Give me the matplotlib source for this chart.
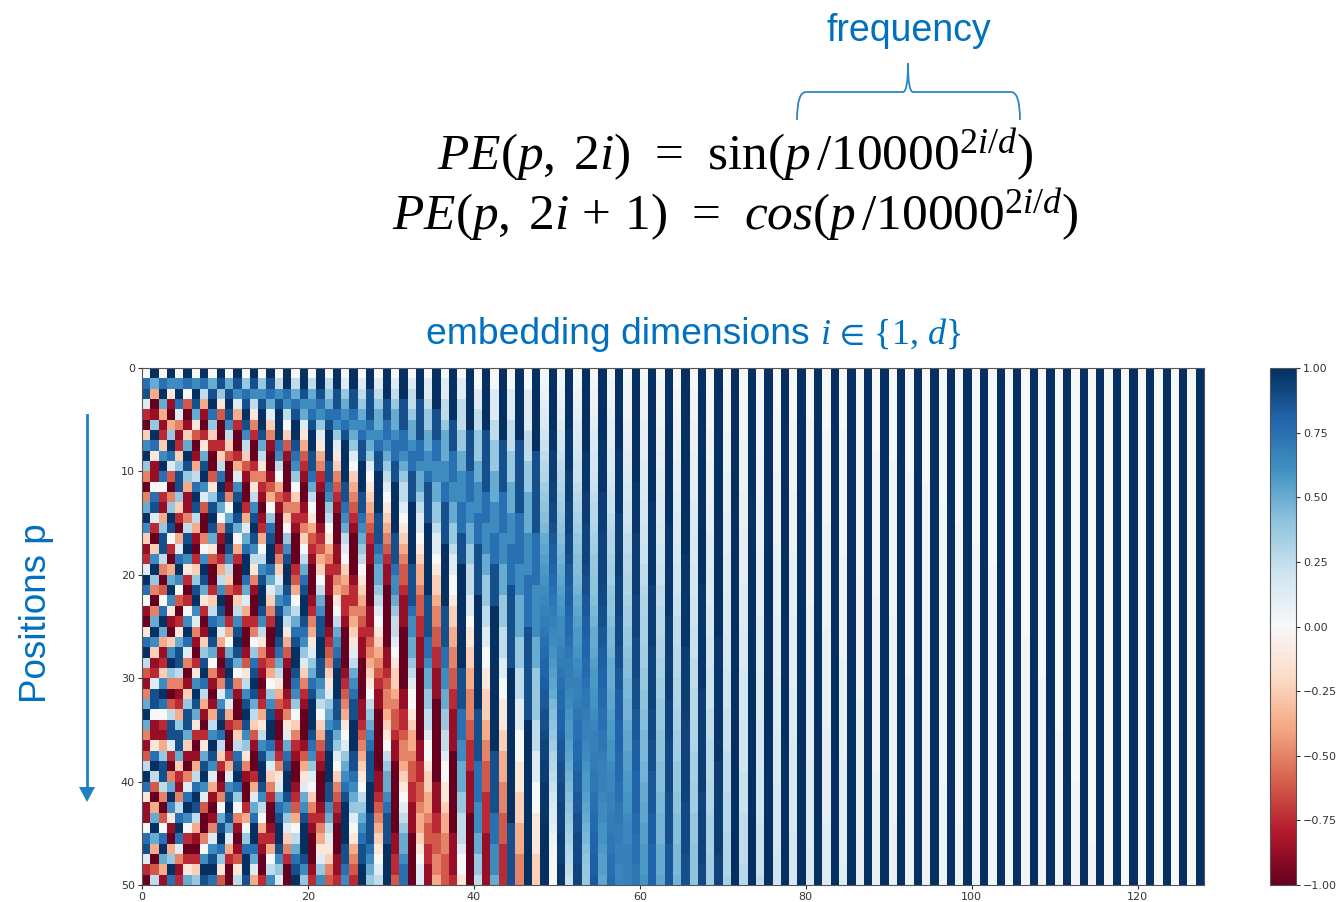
import matplotlib

matplotlib.use("Agg")

import matplotlib.pyplot as plt  # noqa: E402
import numpy as np  # noqa: E402
from matplotlib.patches import PathPatch  # noqa: E402
from matplotlib.path import Path  # noqa: E402

plt.rcParams["font.family"] = ["DejaVu Sans"]
plt.rcParams["mathtext.fontset"] = "custom"
plt.rcParams["mathtext.rm"] = "Liberation Serif"
plt.rcParams["mathtext.it"] = "Liberation Serif:italic"
plt.rcParams["mathtext.fallback"] = "stix"

# each string is one heatmap column, top row first, hand read from the picture
# coarse symbols: 0..g mean -1.00 .. +1.00 in steps of 0.125
COARSE = "0123456789abcdefg"
# fine symbols for the smooth right part: 0..E mean 0.000 .. 1.000 in steps of 0.025
FINE = "0123456789abcdefghijklmnopqrstuvwxyzABCDE"
NAVY = "E" * 50
PALE = "0" * 50

columns_0_47 = [
    "8ef9206dgb" "404cgd6129" "ge8107ega3" "14cgc413ag" "e7118ef920",
    "gc501bge71" "18ef9206dg" "b404cgd612" "9ff8117ega" "305cgc503a",
    "8egc5126dg" "e8215bffa4" "038egc5126" "dge8215bff" "a4038egc51",
    "gd7105bge9" "304bgf8205" "cgd7106dgb" "403aff9204" "cgd7105bge",
    "8dge94126b" "ffb62059eg" "d83027cffa" "4125bffc62" "14aege9412",
    "ge83016cgf" "b5114afgd7" "2028dge940" "16bffc6104" "9egd82027c",
    "8dgfc73015" "aegfa51026" "bfgd941027" "dgfc72015a" "egfa51026b",
    "gea51027cf" "gd930048dg" "fc72016bfg" "ea51027cfg" "d930048dgf",
    "8cfgeb6200" "37bfgfc730" "026aegfc84" "1015adgfd9" "510149dfge",
    "gfb730026a" "egfc841025" "adgfd95101" "49dfgea620" "148cfgeb73",
    "8cfgfda630" "0148cfgfda" "6300258cfg" "fd95200259" "dfgfc95200",
    "gfd9520025" "9dfgfc8520" "026adfgfc8" "410036aefg" "eb8410137a",
    "8befgfda63" "100259cegg" "ec95200137" "adfgfdb741" "00258beggf",
    "gfda742002" "47adfgfda7" "4100248bef" "gfca631002" "59ceggec95",
    "8bdfggfca7" "42101258ad" "fggfda7421" "01257adfgg" "fda8521002",
    "gfec964100" "1358befgge" "c964200135" "8bdfggec96" "42001258ad",
    "8adfgggeda" "8531000246" "9bdfggfeca" "7531001247" "9cefggfdb9",
    "ggeda86310" "002468bdfg" "gfeca75310" "012479cefg" "gfdb964200",
    "8acefggfed" "b864210002" "358acefggf" "edb8642100" "12358acefg",
    "ggfdc97532" "10012468ac" "efggfedb96" "4210001357" "9cdfgggfdb",
    "8acdefggff" "eca8753210" "00124579bc" "efgggfedb9" "8642100012",
    "ggfedb9754" "2100012356" "8acdffggff" "dca8653210" "00124579bd",
    "8abcefgggf" "fedba87542" "1100012346" "79bcdffggg" "ffdca97643",
    "ggffedb976" "4321000112" "4578acdefg" "ggffecb986" "4321000112",
    "89bcdefggg" "gffedca986" "5422100001" "2345789bcd" "efggggffed",
    "ggffedcb98" "6543210000" "12245679ac" "deffgggffe" "dcb9875432",
    "89abcdeffg" "ggffedcba8" "7654321100" "0011234567" "8abcdeffgg",
    "ggfffedcb9" "8765432110" "0001123456" "78abcdefff" "gggfffedcb",
    "89abccdeff" "ggggfffedc" "cba9876543" "2110000001" "123456789a",
    "gggffeedcb" "a987654321" "1000000112" "3445678abc" "cdefffgggg",
    "89abccdeef" "fgggggfffe" "ddcbaa9876" "6543321100" "0000011223",
    "gggfffeedc" "baa9876543" "3211100000" "0112234456" "789abccdee",
    "89aabccdee" "fffggggggf" "fffeddccba" "9887655433" "2211100000",
    "gggffffeed" "ccba998765" "5433221110" "0000001122" "3345567899",
    "899abbccdd" "effffggggg" "ggffffeedc" "cbbaa98876" "6554332211",
    "ggggfffeed" "dccbba9987" "6654433221" "1100000000" "1112233445",
    "899aabcccd" "deeffffggg" "gggffffeed" "dccbbaa988" "7765544333",
    "gggggfffee" "eddccbba99" "8876655443" "3221111000" "0000011112",
    "899aaabbcc" "dddeeefffg" "gggggggggf" "fffeeeddcc" "cbbaaa9887",
    "ggggggffff" "eeeddccbba" "aa99877665" "5444332221" "1110000000",
    "8899aabbbc" "cdddeeefff" "ffgggggggg" "gggfffffee" "eedddccbba",
    "ggggggffff" "ffeeedddcc" "bbbaa99887" "7666554433" "3222211111",
    "88999aabbb" "cccdddeeef" "fffggggggg" "gggggggfff" "fffeeedddc",
    "gggggggfff" "ffeeeedddc" "ccbbbaaa99" "8877766555" "4443332222",
    "88999aaabb" "bcccdddeee" "effffffffg" "gggggggggg" "ggggffffff",
    "gggggggfff" "ffffeeeeed" "ddccccbbba" "aa99988877" "7666555444",
    "889999aaab" "bbccccdddd" "eeeeefffff" "ffffgggggg" "gggggggggg",
    "ggggggggff" "ffffffeeee" "edddddcccb" "bbbbaaa999" "8887777666",
]

columns_48_69 = [
    "01245689ab" "cefghiklmn" "opqrstuvww" "xyyzzABBCC" "DDDDEEEEEE",
    "EEEEEEDDCC" "CBBAAzyxxw" "vutsrqponm" "lkihgfecba" "9765421000",
    "012345789a" "bcdefghijk" "lmnoppqrst" "uvvwwxyyzz" "AABBBCCCDD",
    "EEEEEEDDDD" "CCCBBBAAzy" "yxxwvvutss" "rqponnmlkj" "ihgfedcba9",
    "0123456789" "9abcdefghh" "ijklmnnopq" "rrstuuvvwx" "xyyzzAAABB",
    "EEEEEEEEDD" "DDCCCBBBBA" "zzyyxxwwvv" "uttsrrqpon" "nmlkjihgff",
    "0122345677" "89abbcdeff" "gghijkklmn" "noopqrrsst" "tuuvvwwxxy",
    "EEEEEEEDDD" "DDCCCCBBBB" "BAAzzyyxxw" "wvvuuttsrr" "rqppoonmml",
    "0112344566" "7899abccde" "efgghiijkk" "kllmnnoopq" "qrrssttuuv",
    "EEEEEEEEDD" "DDDDCCCCCC" "BBBBAAAzzy" "yxxxwwwvvv" "uuttssrrqq",
    "0112234455" "677889aabb" "ccdeeffghh" "iijjkllmmn" "noopqqrrrr",
    "EEEEEEEEEE" "EDDDDDCCCC" "CCBBBBAAAA" "zzzyyyxxxw" "wwwvvuuutt",
    "0112233445" "566778899a" "abccdddeef" "fgghhiiijj" "kkllmmnnno",
    "EEEEEEEEEE" "EEEDDDDDDD" "DCCCCCCBBB" "BBBAAAzzzy" "yyyxxxwwww",
    "0111223344" "5566677889" "9aabbbccdd" "eefffggghh" "hiijjjkkkl",
    "EEEEEEEEEE" "EEEEEDDDDD" "DDDDCCCCCC" "CCBBBBAAAA" "Azzzzzyyyy",
    "0011222334" "4455666778" "8899aaabbb" "cccddeeeff" "fgghhhiiij",
    "EEEEEEEEEE" "EEEEEEEEDD" "DDDDDDDCCC" "CCCCBBBBBB" "BBAAAAAzzz",
    "0011122233" "3445556667" "77888999aa" "abbbcccddd" "eeefffgggg",
    "EEEEEEEEEE" "EEEEEEEEEE" "EDDDDDDDDD" "DCCCCCCCCC" "CBBBBBBBAA",
    "0001112223" "3334445556" "6667778889" "999aaabbbb" "cccddddeee",
    "EEEEEEEEEE" "EEEEEEEEEE" "EEEEEEDDDD" "DDDDDDDDCC" "CCCCCCCBBB",
]

# even columns from 70 on, the odd ones there stay navy
light_columns = [
    "0011112222" "3333444455" "5566667778" "8889999aaa" "abbbbccccd",
    "0001111222" "2233334444" "4555566667" "7777888889" "999aaaaabb",
    "0001111122" "2223333344" "4444555556" "6666777778" "888899999a",
    "0000111111" "2222222333" "3333444444" "5555566666" "7777777888",
    "0000011111" "1122222233" "3333444444" "4555556666" "6666677777",
    "0000011111" "1111222222" "2223333333" "4444444455" "5555556666",
    "0000001111" "1111122222" "2222233333" "3333344444" "4444555555",
    "0000001111" "1111111122" "2222222233" "3333333344" "4444444455",
    "0000000111" "1111111111" "2222222222" "2233333333" "3333344444",
    "0000000011" "1111111111" "1122222222" "2222222223" "3333333333",
    "0000000001" "1111111111" "1111222222" "2222222222" "2222333333",
    "0000000000" "1111111111" "1111111111" "2222222222" "2222222222",
    "0000000000" "0111111111" "1111111111" "1111222222" "2222222222",
    "0000000000" "0001111111" "1111111111" "1111111111" "2222222222",
    "0000000000" "0000011111" "1111111111" "1111111111" "1111222222",
    "0000000000" "0000000111" "1111111111" "1111111111" "1111111112",
    "0000000000" "0000000001" "1111111111" "1111111111" "1111111111",
    "0000000000" "0000000000" "0001111111" "1111111111" "1111111111",
    "0000000000" "0000000000" "0000001111" "1111111111" "1111111111",
    "0000000000" "0000000000" "0000000000" "1111111111" "1111111111",
    "0000000000" "0000000000" "0000000000" "0000011111" "1111111111",
    "0000000000" "0000000000" "0000000000" "0000000000" "1111111111",
    "0000000000" "0000000000" "0000000000" "0000000000" "0000001111",
    PALE, PALE, PALE, PALE, PALE, PALE,
]

x_ticks = [0, 20, 40, 60, 80, 100, 120]
y_ticks = [0, 10, 20, 30, 40, 50]
bar_ticks = [-1.0, -0.75, -0.5, -0.25, 0.0, 0.25, 0.5, 0.75, 1.0]

fine_columns = list(columns_48_69)
for col in light_columns:
    fine_columns += [col, NAVY]

bad = [i for i, c in enumerate(columns_0_47 + fine_columns) if len(c) != 50]
assert not bad and len(columns_0_47) + len(fine_columns) == 128, bad

left_part = [[COARSE.index(ch) / 8 - 1 for ch in col] for col in columns_0_47]
right_part = [[FINE.index(ch) / 40 for ch in col] for col in fine_columns]
values = np.array(left_part + right_part).T

W, H = 1337, 902
BLUE = "#0070C0"

fig = plt.figure(figsize=(W / 100, H / 100), dpi=100)


def px_axes(x0, y0, x1, y1):
    return fig.add_axes([x0 / W, 1 - y1 / H, (x1 - x0) / W, (y1 - y0) / H])


ax = px_axes(142, 368, 1204, 885)
mesh = ax.pcolormesh(values, cmap="RdBu", vmin=-1, vmax=1)
ax.invert_yaxis()
ax.set_xticks(x_ticks)
ax.set_yticks(y_ticks)
ax.tick_params(labelsize=8, length=3, width=0.8, pad=2, colors="#333333")
for spine in ax.spines.values():
    spine.set_color("#555555")

cax = px_axes(1270, 368, 1296, 885)
cbar = fig.colorbar(mesh, cax=cax, ticks=bar_ticks)
cbar.ax.set_yticklabels([f"{t:.2f}".replace("-", "\u2212") for t in bar_ticks])
cbar.ax.tick_params(labelsize=8, length=3, width=0.8, pad=2, colors="#333333")
cbar.outline.set_edgecolor("#555555")

# overlay in pixel coordinates for the slide annotations
over = fig.add_axes([0, 0, 1, 1], facecolor="none")
over.set_xlim(0, W)
over.set_ylim(H, 0)
over.axis("off")

over.text(909, 31, "frequency", color=BLUE, family="Liberation Sans", fontsize=27,
          ha="center", va="center")
over.text(735, 170, r"$PE(p,\;2i)\;\,=\;\,\mathrm{sin}(p\,/10000^{2i/d})$", color="black",
          fontsize=37, ha="center", va="baseline")
over.text(735.5, 230, r"$PE(p,\;2i\,+\,1)\;\,=\;\,cos(p\,/10000^{2i/d})$", color="black",
          fontsize=37, ha="center", va="baseline")
over.text(426, 344, "embedding dimensions", color=BLUE, family="Liberation Sans",
          fontsize=26.8, ha="left", va="baseline")
over.text(820, 344, r"$i\,\in\,\{1,\,d\}$", color=BLUE, fontsize=26, ha="left", va="baseline")
over.text(37, 613, "Positions p", color=BLUE, family="Liberation Sans", fontsize=26.5,
          rotation=90, ha="center", va="center")

brace_verts = [(797, 120), (797, 92), (806, 92), (903, 92), (908, 92), (908, 63),
               (908, 92), (913, 92), (1011, 92), (1020, 92), (1020, 120)]
brace_codes = [Path.MOVETO, Path.CURVE3, Path.CURVE3, Path.LINETO, Path.CURVE3, Path.CURVE3,
               Path.CURVE3, Path.CURVE3, Path.LINETO, Path.CURVE3, Path.CURVE3]
over.add_patch(PathPatch(Path(brace_verts, brace_codes), fill=False, edgecolor="#2E86C8",
                         linewidth=1.3))

over.plot([87, 87], [415, 790], color="#1F7FC4", linewidth=2)
over.fill([79, 95, 87], [787, 787, 802], color="#1F7FC4", linewidth=0)

fig.savefig("out.png", dpi=100)
